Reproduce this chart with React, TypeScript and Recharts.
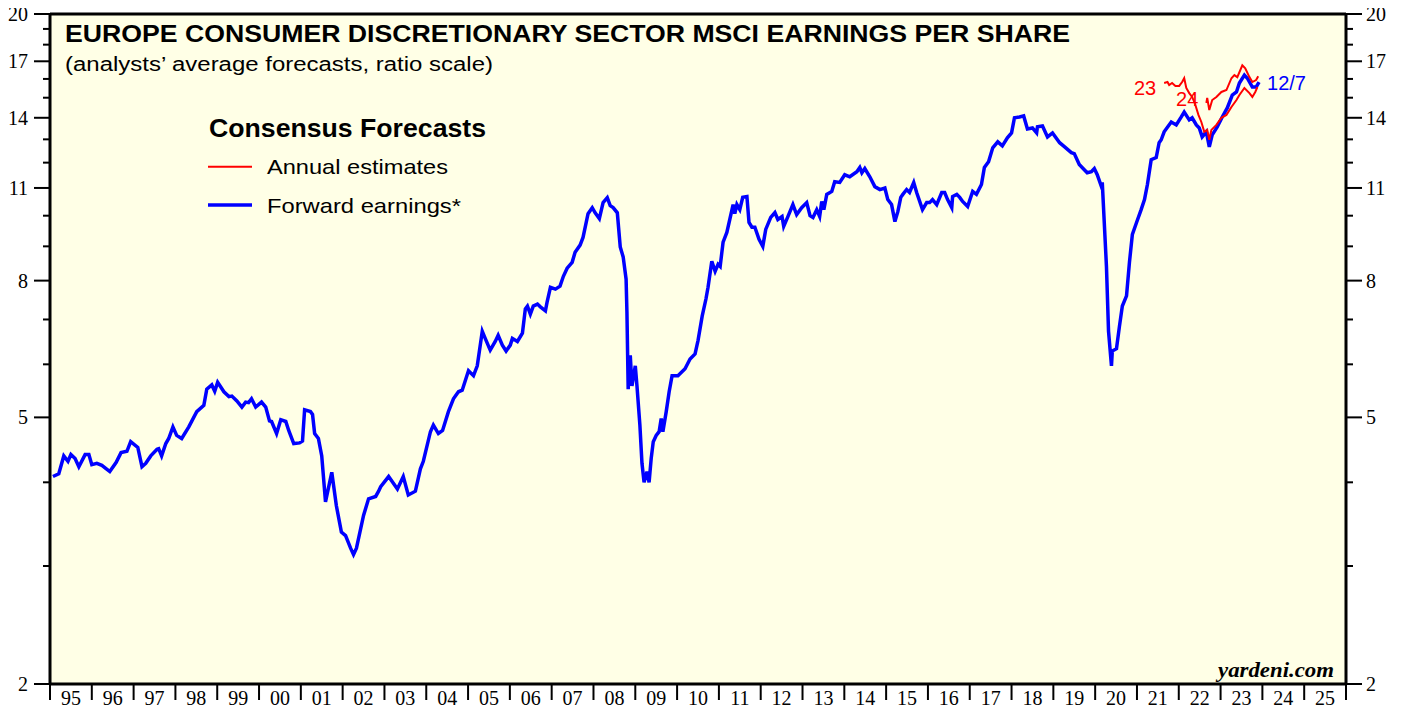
import {
  CartesianGrid,
  Line,
  LineChart,
  ReferenceLine,
  XAxis,
  YAxis,
} from 'recharts'

// forward earnings (weekly, sampled), decimal years
const fwdDates = [
  1995.07, 1995.21, 1995.33, 1995.43, 1995.5, 1995.6, 1995.69, 1995.84, 1995.93, 1996.0,
  1996.12, 1996.24, 1996.43, 1996.58, 1996.7, 1996.84, 1996.93, 1997.1, 1997.2, 1997.29,
  1997.41, 1997.56, 1997.6, 1997.67, 1997.77, 1997.84, 1997.94, 1998.03, 1998.15, 1998.32,
  1998.51, 1998.68, 1998.75, 1998.87, 1998.94, 1999.01, 1999.16, 1999.28, 1999.35, 1999.47,
  1999.59, 1999.68, 1999.75, 1999.82, 1999.92, 2000.06, 2000.16, 2000.25, 2000.3, 2000.42,
  2000.52, 2000.64, 2000.71, 2000.83, 2000.97, 2001.04, 2001.09, 2001.23, 2001.28, 2001.33,
  2001.42, 2001.5, 2001.59, 2001.74, 2001.85, 2001.97, 2002.07, 2002.19, 2002.26, 2002.33,
  2002.5, 2002.62, 2002.79, 2002.86, 2002.91, 2003.1, 2003.31, 2003.45, 2003.57, 2003.74,
  2003.86, 2003.93, 2004.1, 2004.17, 2004.29, 2004.39, 2004.53, 2004.65, 2004.77, 2004.86,
  2005.01, 2005.13, 2005.22, 2005.34, 2005.41, 2005.53, 2005.65, 2005.72, 2005.82, 2005.91,
  2006.01, 2006.06, 2006.18, 2006.3, 2006.37, 2006.42, 2006.49, 2006.56, 2006.66, 2006.73,
  2006.85, 2006.89, 2006.97, 2007.09, 2007.2, 2007.28, 2007.37, 2007.49, 2007.56, 2007.68,
  2007.75, 2007.87, 2007.97, 2008.04, 2008.14, 2008.23, 2008.33, 2008.4, 2008.47, 2008.57,
  2008.64, 2008.71, 2008.78, 2008.8, 2008.83, 2008.88, 2008.92, 2009.0, 2009.04, 2009.11,
  2009.16, 2009.21, 2009.28, 2009.33, 2009.38, 2009.43, 2009.5, 2009.57, 2009.62, 2009.66,
  2009.74, 2009.81, 2009.88, 2010.02, 2010.19, 2010.31, 2010.43, 2010.5, 2010.6, 2010.69,
  2010.74, 2010.83, 2010.91, 2010.98, 2011.03, 2011.1, 2011.19, 2011.26, 2011.34, 2011.38,
  2011.43, 2011.5, 2011.57, 2011.67, 2011.72, 2011.79, 2011.86, 2011.96, 2012.05, 2012.12,
  2012.24, 2012.34, 2012.41, 2012.51, 2012.55, 2012.65, 2012.77, 2012.86, 2012.98, 2013.1,
  2013.18, 2013.25, 2013.34, 2013.41, 2013.46, 2013.51, 2013.58, 2013.7, 2013.77, 2013.89,
  2014.01, 2014.13, 2014.3, 2014.37, 2014.42, 2014.49, 2014.61, 2014.73, 2014.85, 2014.97,
  2015.04, 2015.13, 2015.21, 2015.28, 2015.35, 2015.4, 2015.49, 2015.56, 2015.66, 2015.73,
  2015.87, 2015.97, 2016.04, 2016.11, 2016.21, 2016.33, 2016.4, 2016.47, 2016.57, 2016.59,
  2016.69, 2016.76, 2016.83, 2016.95, 2017.07, 2017.16, 2017.28, 2017.35, 2017.45, 2017.55,
  2017.67, 2017.78, 2017.9, 2018.0, 2018.07, 2018.19, 2018.29, 2018.38, 2018.5, 2018.6,
  2018.62, 2018.74, 2018.86, 2018.98, 2019.15, 2019.27, 2019.43, 2019.5, 2019.62, 2019.74,
  2019.81, 2019.91, 2019.98, 2020.05, 2020.15, 2020.17, 2020.27, 2020.32, 2020.39, 2020.41,
  2020.51, 2020.58, 2020.65, 2020.75, 2020.82, 2020.89, 2020.99, 2021.1, 2021.18, 2021.25,
  2021.34, 2021.46, 2021.53, 2021.58, 2021.65, 2021.82, 2021.94, 2022.06, 2022.13, 2022.25,
  2022.32, 2022.42, 2022.49, 2022.56, 2022.66, 2022.73, 2022.8, 2022.92, 2023.04, 2023.16,
  2023.28, 2023.38, 2023.45, 2023.57, 2023.64, 2023.76, 2023.85, 2023.92,
]
const fwdValues = [
  4.08, 4.12, 4.38, 4.3, 4.4, 4.34, 4.22, 4.4, 4.4, 4.25,
  4.27, 4.24, 4.15, 4.28, 4.43, 4.45, 4.6, 4.51, 4.22, 4.27,
  4.38, 4.48, 4.49, 4.38, 4.57, 4.65, 4.84, 4.7, 4.65, 4.84,
  5.1, 5.21, 5.51, 5.59, 5.47, 5.64, 5.46, 5.37, 5.38, 5.29,
  5.18, 5.27, 5.26, 5.33, 5.18, 5.27, 5.18, 4.94, 4.93, 4.73,
  4.96, 4.93, 4.78, 4.57, 4.58, 4.61, 5.13, 5.1, 5.05, 4.73,
  4.65, 4.38, 3.74, 4.14, 3.69, 3.37, 3.33, 3.19, 3.12, 3.19,
  3.57, 3.78, 3.81, 3.88, 3.94, 4.08, 3.91, 4.08, 3.83, 3.88,
  4.19, 4.3, 4.76, 4.87, 4.73, 4.78, 5.1, 5.33, 5.46, 5.49,
  5.87, 5.77, 5.97, 6.72, 6.56, 6.3, 6.49, 6.63, 6.41, 6.28,
  6.41, 6.56, 6.49, 6.68, 7.26, 7.33, 7.13, 7.33, 7.38, 7.31,
  7.21, 7.43, 7.82, 7.77, 7.85, 8.12, 8.35, 8.52, 8.82, 9.04,
  9.28, 10.07, 10.28, 10.1, 9.9, 10.46, 10.64, 10.35, 10.28, 10.1,
  8.98, 8.68, 8.04, 7.19, 5.51, 6.19, 5.57, 5.97, 5.57, 4.87,
  4.27, 4.0, 4.15, 4.0, 4.34, 4.6, 4.7, 4.76, 4.98, 4.76,
  5.1, 5.46, 5.77, 5.77, 5.91, 6.11, 6.22, 6.51, 7.08, 7.51,
  7.82, 8.55, 8.26, 8.46, 8.4, 9.13, 9.44, 9.87, 10.39, 10.07,
  10.39, 10.21, 10.65, 10.68, 9.77, 9.61, 9.61, 9.22, 9.0, 9.54,
  9.94, 10.11, 9.87, 9.97, 9.64, 9.97, 10.39, 10.04, 10.28, 10.46,
  10.0, 9.94, 10.21, 9.97, 10.5, 10.21, 10.76, 10.87, 11.24, 11.21,
  11.51, 11.43, 11.63, 11.8, 11.59, 11.76, 11.43, 11.05, 10.94, 11.0,
  10.57, 10.39, 9.8, 10.14, 10.65, 10.76, 10.94, 10.83, 11.21, 10.83,
  10.21, 10.46, 10.46, 10.57, 10.39, 10.83, 10.83, 10.57, 10.28, 10.68,
  10.76, 10.65, 10.5, 10.32, 10.87, 10.76, 11.13, 11.8, 12.04, 12.63,
  12.89, 12.71, 13.07, 13.29, 14.0, 14.04, 14.09, 13.47, 13.52, 13.29,
  13.57, 13.61, 13.11, 13.29, 12.85, 12.67, 12.42, 12.38, 11.92, 11.71,
  11.59, 11.63, 11.76, 11.51, 11.05, 11.21, 8.4, 6.72, 5.97, 6.28,
  6.33, 6.83, 7.33, 7.59, 8.52, 9.38, 9.77, 10.21, 10.57, 11.13,
  12.12, 12.21, 12.85, 12.98, 13.34, 13.8, 13.66, 14.04, 14.28, 13.9,
  14.0, 13.66, 13.52, 13.11, 13.34, 12.67, 13.2, 13.57, 14.04, 14.48,
  15.14, 15.3, 15.78, 16.21, 16.04, 15.56, 15.56, 15.83,
]

// annual consensus estimates for 2023 and 2024
const est23Dates = [
  2021.65, 2021.73, 2021.77, 2021.84, 2021.92, 2022.01, 2022.08, 2022.13, 2022.18, 2022.25,
  2022.32, 2022.39, 2022.47, 2022.54, 2022.61, 2022.68, 2022.73, 2022.78, 2022.9, 2023.02,
  2023.14, 2023.26, 2023.38, 2023.45, 2023.57, 2023.69, 2023.76, 2023.83, 2023.88,
]
const est23Values = [
  15.78, 15.83, 15.67, 15.78, 15.62, 15.62, 15.83, 16.04, 15.51, 15.24,
  15.04, 14.68, 14.14, 13.8, 13.34, 13.43, 12.98, 13.43, 13.66, 14.0,
  14.14, 14.53, 14.88, 15.14, 15.51, 15.24, 15.04, 15.3, 15.56,
]
const est24Dates = [
  2022.66, 2022.68, 2022.73, 2022.8, 2022.9, 2023.02, 2023.14, 2023.26, 2023.33, 2023.4,
  2023.52, 2023.59, 2023.69, 2023.76, 2023.85, 2023.9,
]
const est24Values = [
  14.73, 14.99, 14.38, 14.88, 15.04, 15.3, 15.4, 16.04, 16.21, 16.1,
  16.77, 16.6, 16.1, 15.83, 15.94, 16.15,
]

const X_MIN = 1995
const X_MAX = 2026
const yearTicks = Array.from({ length: X_MAX - X_MIN + 1 }, (_, i) => X_MIN + i)
const yTicks = [2, 3, 4, 5, 6, 7, 8, 9, 10, 11, 12, 13, 14, 15, 16, 17, 18, 19, 20]
const yLabels = [2, 5, 8, 11, 14, 17, 20]

const CREAM = '#FFFFE6'
const RED = '#FF0000'
const BLUE = '#0000FF'
const SERIF = '"Liberation Serif", "Times New Roman", serif'
const SANS = '"Liberation Sans", Arial, sans-serif'

const W = 1383
const H = 708
const X_AXIS_H = 24

type Row = { t: number; fwd?: number; a23?: number; a24?: number }

function buildRows(): Row[] {
  const byT = new Map<number, Row>()
  const add = (dates: number[], values: number[], key: 'fwd' | 'a23' | 'a24') => {
    dates.forEach((t, i) => {
      const r = byT.get(t) ?? { t }
      r[key] = values[i]
      byT.set(t, r)
    })
  }
  add(fwdDates, fwdValues, 'fwd')
  add(est23Dates, est23Values, 'a23')
  add(est24Dates, est24Values, 'a24')
  return Array.from(byT.values()).sort((a, b) => a.t - b.t)
}

const rows = buildRows()
const idxOf = (t: number) => rows.findIndex((r) => r.t === t)
const fwdLast = idxOf(fwdDates[fwdDates.length - 1])
const a23First = idxOf(est23Dates[0])
const a24First = idxOf(est24Dates[0])

function YearTick(props: any) {
  const { x, y, payload, width } = props
  const step = (typeof width === 'number' ? width : 1296) / (X_MAX - X_MIN)
  const v: number = payload.value
  return (
    <g>
      <line x1={x} x2={x} y1={y} y2={y + 16} stroke="#000" strokeWidth={2} />
      {v < X_MAX && (
        <text
          x={x + step / 2}
          y={y + 21}
          textAnchor="middle"
          fontSize={20}
          fontFamily={SERIF}
          fill="#000"
        >
          {String(v).slice(2)}
        </text>
      )}
    </g>
  )
}

function LeftTick(props: any) {
  const { x, y, payload } = props
  const major = yLabels.includes(payload.value)
  const len = major ? 16 : 7
  return (
    <g>
      <line x1={x - len} x2={x} y1={y} y2={y} stroke="#000" strokeWidth={2} />
      {major && (
        <text x={x - 22} y={y + 7} textAnchor="end" fontSize={20} fontFamily={SERIF} fill="#000">
          {payload.value}
        </text>
      )}
    </g>
  )
}

function RightTick(props: any) {
  const { x, y, payload } = props
  const major = yLabels.includes(payload.value)
  const len = major ? 16 : 7
  return (
    <g>
      <line x1={x} x2={x + len} y1={y} y2={y} stroke="#000" strokeWidth={2} />
      {major && (
        <text x={x + 20} y={y + 7} textAnchor="start" fontSize={20} fontFamily={SERIF} fill="#000">
          {payload.value}
        </text>
      )}
    </g>
  )
}

function pointLabel(text: string, at: number, color: string, dx: number, dy: number, anchor: 'start' | 'end') {
  return (props: any) => {
    if (props.index !== at || props.x == null || props.y == null) return null
    return (
      <text
        key={text}
        x={props.x + dx}
        y={props.y + dy}
        textAnchor={anchor}
        fontSize={20}
        fontFamily={SANS}
        fill={color}
      >
        {text}
      </text>
    )
  }
}

export default function App() {
  return (
    <div style={{ position: 'relative', width: W, height: H, marginTop: -8 }}>
      <LineChart width={W} height={H} data={rows} margin={{ top: 14, right: 0, bottom: 0, left: 0 }}>
        <CartesianGrid fill={CREAM} horizontal={false} vertical={false} />
        <XAxis
          dataKey="t"
          type="number"
          domain={[X_MIN, X_MAX]}
          allowDataOverflow
          ticks={yearTicks}
          interval={0}
          height={X_AXIS_H}
          tickSize={0}
          tickMargin={0}
          tickLine={false}
          axisLine={{ stroke: '#000', strokeWidth: 3 }}
          tick={<YearTick />}
        />
        <YAxis
          yAxisId="left"
          type="number"
          scale="log"
          domain={[2, 20]}
          allowDataOverflow
          ticks={yTicks}
          interval={0}
          width={42}
          tickSize={0}
          tickMargin={0}
          tickLine={false}
          axisLine={{ stroke: '#000', strokeWidth: 3 }}
          tick={<LeftTick />}
        />
        <YAxis
          yAxisId="right"
          orientation="right"
          type="number"
          scale="log"
          domain={[2, 20]}
          allowDataOverflow
          ticks={yTicks}
          interval={0}
          width={45}
          tickSize={0}
          tickMargin={0}
          tickLine={false}
          axisLine={{ stroke: '#000', strokeWidth: 3 }}
          tick={<RightTick />}
        />
        <ReferenceLine yAxisId="left" y={20} stroke="#000" strokeWidth={3} />
        <Line
          yAxisId="left"
          dataKey="fwd"
          stroke={BLUE}
          strokeWidth={3.5}
          dot={false}
          connectNulls
          isAnimationActive={false}
          label={pointLabel('12/7', fwdLast, BLUE, 8, 8, 'start')}
        />
        <Line
          yAxisId="right"
          dataKey="a23"
          stroke={RED}
          strokeWidth={2}
          dot={false}
          connectNulls
          isAnimationActive={false}
          label={pointLabel('23', a23First, RED, -8, 12, 'end')}
        />
        <Line
          yAxisId="right"
          dataKey="a24"
          stroke={RED}
          strokeWidth={2}
          dot={false}
          connectNulls
          isAnimationActive={false}
          label={pointLabel('24', a24First, RED, -8, 3, 'end')}
        />
      </LineChart>
      <svg
        width={W}
        height={H}
        style={{ position: 'absolute', left: 0, top: 0, pointerEvents: 'none' }}
      >
        <text x={57} y={41.5} fontSize={23} fontWeight={700} fontFamily={SANS} fill="#000" textLength={1005} lengthAdjust="spacingAndGlyphs">
          EUROPE CONSUMER DISCRETIONARY SECTOR MSCI EARNINGS PER SHARE
        </text>
        <text x={57} y={70.5} fontSize={20} fontFamily={SANS} fill="#000" textLength={428} lengthAdjust="spacingAndGlyphs">
          (analysts’ average forecasts, ratio scale)
        </text>
        <text x={201} y={137} fontSize={25} fontWeight={700} fontFamily={SANS} fill="#000" textLength={277} lengthAdjust="spacingAndGlyphs">
          Consensus Forecasts
        </text>
        <line x1={200} x2={244} y1={166.7} y2={166.7} stroke={RED} strokeWidth={2} />
        <text x={259} y={174} fontSize={21} fontFamily={SANS} fill="#000" textLength={181} lengthAdjust="spacingAndGlyphs">
          Annual estimates
        </text>
        <line x1={200} x2={244} y1={205} y2={205} stroke={BLUE} strokeWidth={3.5} />
        <text x={259} y={213} fontSize={21} fontFamily={SANS} fill="#000" textLength={194} lengthAdjust="spacingAndGlyphs">
          Forward earnings*
        </text>
        <text x={1210} y={676.5} fontSize={21} fontWeight={700} fontStyle="italic" fontFamily={SERIF} fill="#000" textLength={116} lengthAdjust="spacingAndGlyphs">
          yardeni.com
        </text>
      </svg>
    </div>
  )
}
